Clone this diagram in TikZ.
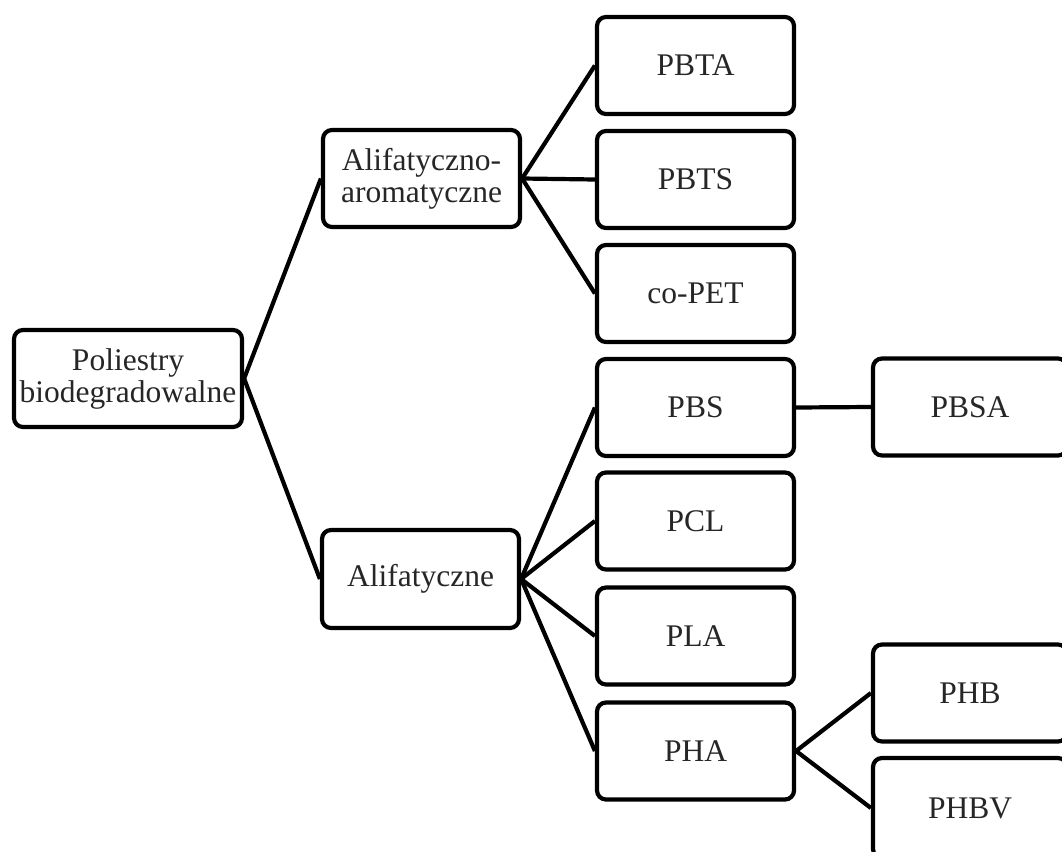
\documentclass[tikz,border=0pt]{standalone}
\usepackage{fontspec}
\setmainfont{Liberation Serif}
\begin{document}
\begin{tikzpicture}[x=1pt,y=-1pt,
  box/.style={draw=black, line width=4.2pt, rounded corners=9pt, fill=white,
    minimum width=197pt, minimum height=97pt, inner sep=0pt, align=center,
    text=black!85, font=\fontsize{31.5}{32}\selectfont},
  conn/.style={draw=black, line width=4.2pt}]
\useasboundingbox (0,0) rectangle (1062,851);
\clip (0,0) rectangle (1062,851);
\node[box, minimum width=228pt] (root) at (128,378.5) {Poliestry\\biodegradowalne};
\node[box] (alar) at (421.5,178.5) {Alifatyczno-\\aromatyczne};
\node[box, minimum height=98pt] (alif) at (420.5,579) {Alifatyczne};
\node[box] (pbta) at (695.5,65.5) {PBTA};
\node[box] (pbts) at (695.5,179.5) {PBTS};
\node[box] (copet) at (695.5,293.5) {co-PET};
\node[box] (pbs) at (695.5,407.5) {PBS};
\node[box] (pcl) at (695.5,521) {PCL};
\node[box] (pla) at (695.5,636) {PLA};
\node[box] (pha) at (695.5,751) {PHA};
\node[box, minimum width=194pt] (pbsa) at (970,407) {PBSA};
\node[box, minimum width=194pt] (phb) at (970,693) {PHB};
\node[box, minimum width=194pt, minimum height=100pt] (phbv) at (970,808) {PHBV};
\draw[conn] (root.east) -- (alar.west);
\draw[conn] (root.east) -- (alif.west);
\draw[conn] (alar.east) -- (pbta.west);
\draw[conn] (alar.east) -- (pbts.west);
\draw[conn] (alar.east) -- (copet.west);
\draw[conn] (alif.east) -- (pbs.west);
\draw[conn] (alif.east) -- (pcl.west);
\draw[conn] (alif.east) -- (pla.west);
\draw[conn] (alif.east) -- (pha.west);
\draw[conn] (pbs.east) -- (pbsa.west);
\draw[conn] (pha.east) -- (phb.west);
\draw[conn] (pha.east) -- (phbv.west);
\end{tikzpicture}
\end{document}
